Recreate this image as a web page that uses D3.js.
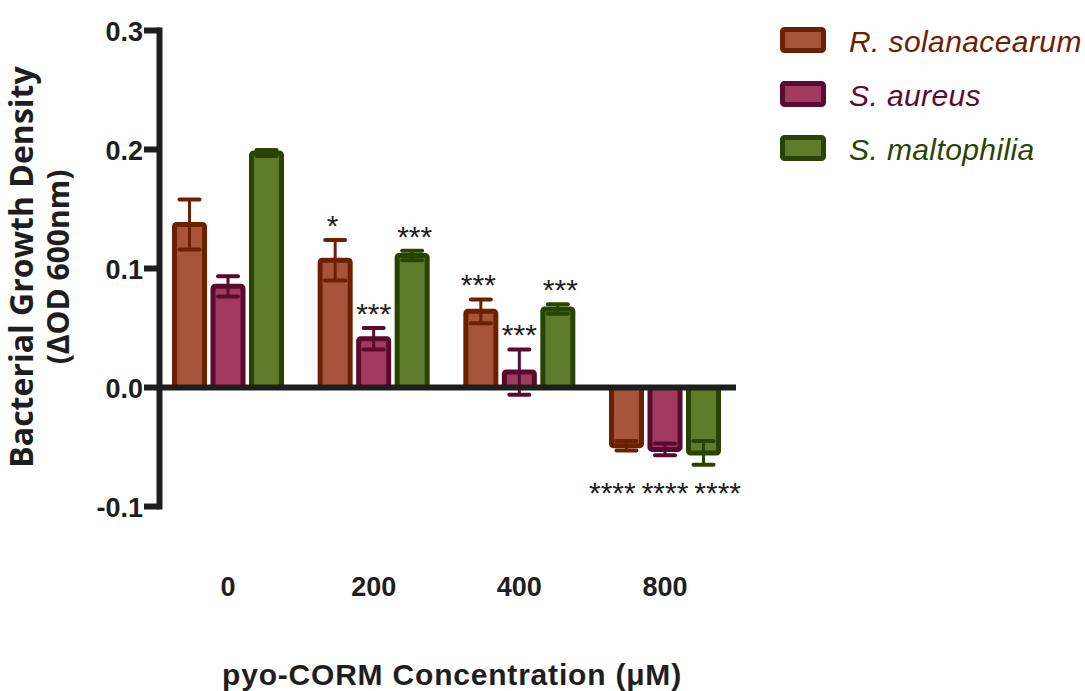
<!DOCTYPE html>
<html>
<head>
<meta charset="utf-8">
<script src="https://cdn.jsdelivr.net/npm/d3@7"></script>
<style>
  html, body { margin: 0; padding: 0; background: #fff; }
  svg { display: block; }
</style>
</head>
<body>
<div id="chart"></div>
<script>
// pyo-CORM concentrations (uM) and species
var doses = ['0', '200', '400', '800'];
var species = ['R. solanacearum', 'S. aureus', 'S. maltophilia'];

// mean delta OD600 and error for each species, per dose
var rSolMean = [0.137, 0.107, 0.064, -0.049];
var rSolErr  = [0.021, 0.017, 0.010, 0.004];
var sAurMean = [0.085, 0.041, 0.013, -0.052];
var sAurErr  = [0.0085, 0.009, 0.019, 0.005];
var sMalMean = [0.197, 0.111, 0.066, -0.055];
var sMalErr  = [0.0025, 0.004, 0.004, 0.010];

// significance marks
var rSolStars = ['', '*', '***', '****'];
var sAurStars = ['', '***', '***', '****'];
var sMalStars = ['', '***', '***', '****'];

var yTicks = [-0.1, 0.0, 0.1, 0.2, 0.3];

var fills   = ['#a6553a', '#a23a5f', '#5f7b2c'];
var strokes = ['#6b2100', '#5a0a2f', '#284400'];

var width = 1085, height = 691;

var series = [
    {name: species[0], mean: rSolMean, err: rSolErr, stars: rSolStars},
    {name: species[1], mean: sAurMean, err: sAurErr, stars: sAurStars},
    {name: species[2], mean: sMalMean, err: sMalErr, stars: sMalStars}
];

var rows = [];
doses.forEach(function(d, i) {
    series.forEach(function(s, k) {
        rows.push({dose: d, k: k, mean: s.mean[i], err: s.err[i], stars: s.stars[i]});
    });
});

var svg = d3.select('#chart').append('svg')
    .attr('width', width)
    .attr('height', height);

var y = d3.scaleLinear().domain([-0.1, 0.3]).range([506.5, 30.5]);
var x = d3.scalePoint().domain(doses).range([228, 665]);
var xs = d3.scaleBand().domain(d3.range(species.length))
    .range([-57.75, 57.75]).paddingInner(0.22).paddingOuter(0.11);

var axisX = 159.5;
var axisColor = '#1e1e1e';
var sans = 'Liberation Sans, Arial, sans-serif';

// bars
var bars = svg.append('g');
bars.selectAll('rect')
    .data(rows)
    .join('rect')
    .attr('x', function(d) { return x(d.dose) + xs(d.k); })
    .attr('width', xs.bandwidth())
    .attr('y', function(d) { return Math.min(y(d.mean), y(0)); })
    .attr('height', function(d) { return Math.abs(y(0) - y(d.mean)); })
    .attr('rx', 2)
    .attr('fill', function(d) { return fills[d.k]; })
    .attr('stroke', function(d) { return strokes[d.k]; })
    .attr('stroke-width', 5);

// error bars
var eb = svg.append('g');
rows.forEach(function(d) {
    var cx = x(d.dose) + xs(d.k) + xs.bandwidth() / 2;
    var y1 = y(d.mean + d.err), y2 = y(d.mean - d.err);
    var c = strokes[d.k];
    eb.append('line').attr('x1', cx).attr('x2', cx).attr('y1', y1).attr('y2', y2)
        .attr('stroke', c).attr('stroke-width', 3);
    [y1, y2].forEach(function(yy) {
        eb.append('line').attr('x1', cx - 10).attr('x2', cx + 10).attr('y1', yy).attr('y2', yy)
            .attr('stroke', c).attr('stroke-width', 4).attr('stroke-linecap', 'round');
    });
});

// y axis
var gy = svg.append('g');
gy.append('line')
    .attr('x1', axisX).attr('x2', axisX)
    .attr('y1', y(0.3) - 3).attr('y2', y(-0.1) + 3)
    .attr('stroke', axisColor).attr('stroke-width', 6);
gy.selectAll('line.tick')
    .data(yTicks)
    .join('line')
    .attr('class', 'tick')
    .attr('x1', 144).attr('x2', axisX)
    .attr('y1', function(d) { return y(d); })
    .attr('y2', function(d) { return y(d); })
    .attr('stroke', axisColor).attr('stroke-width', 6);
gy.selectAll('text')
    .data(yTicks)
    .join('text')
    .attr('x', 143)
    .attr('y', function(d) { return y(d) + 10; })
    .attr('text-anchor', 'end')
    .attr('font-family', sans)
    .attr('font-weight', 'bold')
    .attr('font-size', 27)
    .attr('fill', axisColor)
    .text(function(d) { return d3.format('.1f')(d).replace('\u2212', '-'); });

// x axis at zero
svg.append('line')
    .attr('x1', axisX).attr('x2', 736)
    .attr('y1', y(0)).attr('y2', y(0))
    .attr('stroke', axisColor).attr('stroke-width', 6);

svg.append('g').selectAll('text')
    .data(doses)
    .join('text')
    .attr('x', function(d) { return x(d); })
    .attr('y', 596)
    .attr('text-anchor', 'middle')
    .attr('font-family', sans)
    .attr('font-weight', 'bold')
    .attr('font-size', 27)
    .attr('fill', axisColor)
    .text(function(d) { return d; });

// significance stars
var starSize = 30;
var starG = svg.append('g')
    .attr('font-family', sans)
    .attr('font-size', starSize)
    .attr('fill', '#222')
    .attr('text-anchor', 'middle');
doses.forEach(function(dose, i) {
    var grp = rows.filter(function(r) { return r.dose === dose && r.stars; });
    if (!grp.length) return;
    var maxLen = d3.max(grp, function(r) { return r.stars.length; });
    var spacing = Math.max(xs.step(), maxLen * starSize * 0.389 + 6);
    var lowest = d3.max(grp, function(r) { return y(r.mean - r.err); });
    grp.forEach(function(r) {
        var cx = x(dose) + (r.k - 1) * spacing;
        var ty = r.mean >= 0 ? y(r.mean + r.err) - 4 : lowest + 38;
        starG.append('text').attr('x', cx).attr('y', ty).text(r.stars);
    });
});

// axis titles
svg.append('text')
    .attr('x', 452).attr('y', 685)
    .attr('text-anchor', 'middle')
    .attr('font-family', sans)
    .attr('font-weight', 'bold')
    .attr('font-size', 30)
    .attr('letter-spacing', 0.8)
    .attr('fill', axisColor)
    .text('pyo-CORM Concentration (\u03bcM)');

var yt = svg.append('text')
    .attr('transform', 'translate(0,267) rotate(-90)')
    .attr('text-anchor', 'middle')
    .attr('font-family', 'Open Sans, sans-serif')
    .attr('font-weight', 'bold')
    .attr('font-size', 32)
    .attr('fill', axisColor);
yt.append('tspan').attr('x', 0).attr('y', 33).text('Bacterial Growth Density');
yt.append('tspan').attr('x', 0).attr('y', 69).attr('font-size', 30).text('(\u0394OD 600nm)');

// legend
var legend = svg.append('g').selectAll('g')
    .data(species)
    .join('g')
    .attr('transform', function(d, i) { return 'translate(0,' + (40 + i * 54) + ')'; });
legend.append('rect')
    .attr('x', 782.5).attr('y', -10.5)
    .attr('width', 41).attr('height', 21)
    .attr('rx', 2)
    .attr('fill', function(d, i) { return fills[i]; })
    .attr('stroke', function(d, i) { return strokes[i]; })
    .attr('stroke-width', 5);
legend.append('text')
    .attr('x', 849).attr('y', 12)
    .attr('font-family', sans)
    .attr('font-style', 'italic')
    .attr('font-size', 30)
    .attr('letter-spacing', 0.4)
    .attr('fill', function(d, i) { return strokes[i]; })
    .text(function(d) { return d; });
</script>
</body>
</html>
